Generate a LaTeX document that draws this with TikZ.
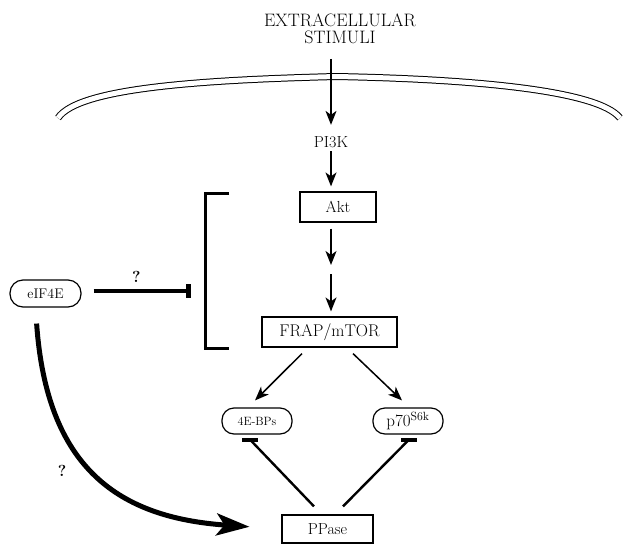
\documentclass[tikz,border=0pt]{standalone}
\usepackage{tikz}
\usetikzlibrary{arrows.meta}

\begin{document}
\begin{tikzpicture}[
		x=1pt, y=-1pt,
		every node/.style={font=\fontsize{16}{16}\selectfont},
		box/.style={draw, line width=1.2pt, minimum height=30pt},
		pill/.style={draw, line width=1.2pt, rounded corners=12pt, minimum height=26pt, minimum width=70pt},
		arr/.style={line width=1.5pt, -{Stealth[length=14pt, width=11pt, inset=4pt]}},
		inh/.style={line width=2.4pt},
		stopbar/.style={line width=4pt},
		membrane/.style={double, double distance=5pt, line width=1pt},
		qmark/.style={font=\bfseries\fontsize{16}{16}\selectfont}
	]
	\useasboundingbox (0,0) rectangle (624,544);
	\draw[membrane] (58,118) .. controls (78,88) and (200,80) .. (336,76.5) .. controls (470,79) and (598,90) .. (620,118);
	\node[align=center, font=\fontsize{18}{17.5}\selectfont] (stim) at (340,29) {EXTRACELLULAR\\STIMULI};
	\node (pik) at (331,142) {PI3K};
	\node[box, minimum width=76pt] (akt) at (338,207) {Akt};
	\node[box, minimum width=135pt, font=\fontsize{17}{17}\selectfont] (frap) at (329.5,332) {FRAP/mTOR};
	\node[pill, font=\fontsize{12}{12}\selectfont] (ebp) at (257,421) {4E-BPs};
	\node[pill, font=\fontsize{17}{17}\selectfont] (p70) at (408,421) {p70\textsuperscript{S6k}};
	\node[pill, minimum width=71pt, minimum height=27pt, rounded corners=13pt, font=\fontsize{14}{14}\selectfont] (eif) at (45.5,293.5) {eIF4E};
	\node[box, minimum width=91pt, minimum height=28pt] (ppase) at (327.5,529) {PPase};
	\node[qmark] (q2) at (62,471) {?};
	\coordinate (mid) at (331,270);
	\coordinate (brk) at (191,291);
	\coordinate (ebpbar) at ([xshift=-7pt, yshift=-5pt]ebp.south);
	\coordinate (p70bar) at ([xshift=1pt, yshift=-5pt]p70.south);
	\draw[arr, shorten <=11pt, shorten >=8pt] (stim.south -| pik.north) -- (pik.north);
	\draw[arr, shorten >=5pt] (pik.south) -- (pik.south |- akt.north);
	\draw[arr, shorten <=6pt, shorten >=5pt] (akt.south -| mid) -- (mid);
	\draw[arr, shorten <=4pt, shorten >=5pt] (mid) -- (mid |- frap.north);
	\draw[arr] ([xshift=-27.5pt, yshift=-6pt]frap.south) -- ([xshift=-2pt, yshift=7pt]ebp.north);
	\draw[arr] ([xshift=23.5pt, yshift=-6pt]frap.south) -- ([xshift=-6pt, yshift=7pt]p70.north);
	\draw[inh] ([xshift=-13.5pt, yshift=8pt]ppase.north) -- (ebpbar);
	\draw[stopbar] ([xshift=-8pt]ebpbar) -- ([xshift=8pt]ebpbar);
	\draw[inh] ([xshift=15.5pt, yshift=8pt]ppase.north) -- (p70bar);
	\draw[stopbar] ([xshift=-8pt]p70bar) -- ([xshift=8pt]p70bar);
	\draw[line width=4pt, -{Bar[width=14pt, line width=5pt]}, shorten <=12pt] (eif.east |- brk) -- (brk) node[midway, above=3pt, qmark] {?};
	\draw[line width=3pt] (229,193) -- (205,193) -- (205,348) -- (229,348);
	\draw[line width=5pt, -{Stealth[length=33pt, width=22pt, inset=8pt]}, shorten <=16pt, shorten >=32pt] ([xshift=-10pt]eif.south) to[out=-86, in=176, looseness=1.25] (ppase.west);
\end{tikzpicture}
\end{document}
